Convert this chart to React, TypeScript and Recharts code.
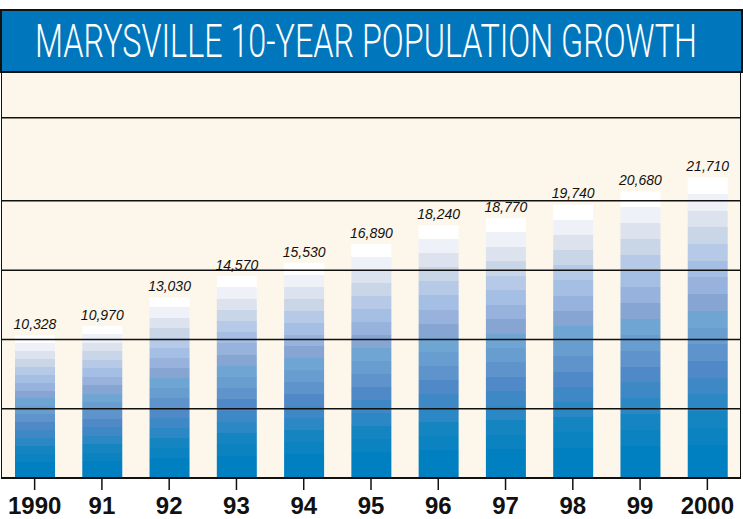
import { Bar, BarChart, LabelList, ReferenceArea, ReferenceLine, XAxis, YAxis } from 'recharts';

const years = ['1990', '91', '92', '93', '94', '95', '96', '97', '98', '99', '2000'];
const population = [10328, 10970, 13030, 14570, 15530, 16890, 18240, 18770, 19740, 20680, 21710];
const gridValues = [5000, 10000, 15000, 20000, 26000];

const data = years.map((year, i) => ({ year, population: population[i] }));

// stepped fill, top to bottom
const bands = [
  '#ffffff', '#eef2f8', '#dde3ee', '#c9d6e8', '#b6c9e6', '#a5bfe4', '#97b2dc', '#87a5d2',
  '#6fa5d3', '#679dcf', '#5e93cb', '#5089c7', '#3f88c6', '#2b88c4', '#1585c1', '#0a83c0', '#0080c0', '#0080c0',
];

const YMAX = 29300;
const TITLE = 'MARYSVILLE 10-YEAR POPULATION GROWTH';
const TITLE_FONT = '300 46px Roboto, sans-serif';

// squeeze the title to the width it has in the print graphic
function titleScale() {
  const ctx = document.createElement('canvas').getContext('2d');
  if (!ctx) return 0.8;
  ctx.font = TITLE_FONT;
  const w = ctx.measureText(TITLE).width;
  return w > 0 ? 662 / w : 0.8;
}

function BarTick({ x, y, payload }: any) {
  return (
    <text x={x} y={y} dy={22} textAnchor="middle" fontFamily="'Liberation Sans', Arial, sans-serif"
      fontWeight="bold" fontSize={24} fill="#111">
      {payload.value}
    </text>
  );
}

function ValueLabel({ x, y, width, value }: any) {
  return (
    <text x={x + width / 2} y={y - 6} textAnchor="middle" fontFamily="'Liberation Sans', Arial, sans-serif"
      fontStyle="italic" fontSize={14} fill="#111">
      {Number(value).toLocaleString('en-US')}
    </text>
  );
}

export default function App() {
  const n = bands.length;
  const sx = titleScale();
  return (
    <div style={{ position: 'absolute', left: 0, top: 0, width: 743, height: 519, background: '#fff' }}>
      <BarChart width={743} height={519} data={data} margin={{ top: 72, right: 2, left: 1, bottom: 0 }}
        barCategoryGap={0}>
        <defs>
          <linearGradient id="barSteps" x1="0" y1="0" x2="0" y2="1">
            {bands.flatMap((c, i) => [
              <stop key={`a${i}`} offset={i / n} stopColor={c} />,
              <stop key={`b${i}`} offset={(i + 1) / n} stopColor={c} />,
            ])}
          </linearGradient>
        </defs>
        <YAxis hide domain={[0, YMAX]} />
        <XAxis dataKey="year" height={41} tick={<BarTick />} tickSize={12} tickMargin={2} interval={0}
          axisLine={{ stroke: '#111', strokeWidth: 2 }} tickLine={{ stroke: '#111', strokeWidth: 1.5 }} />
        <ReferenceArea y1={0} y2={YMAX} fill="#fdf6ea" fillOpacity={1} stroke="#111" strokeWidth={2} ifOverflow="hidden" />
        {gridValues.map((v) => (
          <ReferenceLine key={v} y={v} stroke="#111" strokeWidth={1.5} />
        ))}
        <Bar dataKey="population" barSize={40} fill="url(#barSteps)" isAnimationActive={false}>
          <LabelList dataKey="population" content={<ValueLabel />} />
        </Bar>
      </BarChart>
      <div style={{
        position: 'absolute', left: 0, top: 9, width: 739, height: 60, background: '#0077bc',
        border: '2px solid #111', overflow: 'hidden',
      }}>
        <div style={{
          position: 'absolute', left: 33, top: 4, font: TITLE_FONT, lineHeight: '52px', color: '#fff',
          whiteSpace: 'nowrap', transform: `scaleX(${sx})`, transformOrigin: 'left top',
        }}>
          {TITLE}
        </div>
      </div>
    </div>
  );
}
